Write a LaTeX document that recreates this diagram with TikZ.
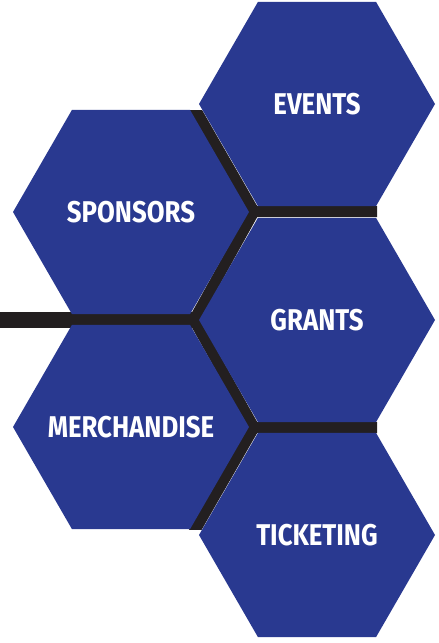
\documentclass[tikz,border=0pt]{standalone}
\usepackage{fontspec}
\newfontfamily\hexfont[FakeStretch=0.86]{Fira Sans}
\usetikzlibrary{shapes.geometric}
\definecolor{hexblue}{RGB}{41,57,144}
\definecolor{gapblack}{RGB}{35,31,32}
\begin{document}
\begin{tikzpicture}[x=1pt,y=-1pt,
  hexcell/.style={regular polygon, regular polygon sides=6, minimum size=236pt,
    inner sep=0pt, outer sep=0pt, fill=hexblue},
  hextext/.style={text=white, inner sep=0pt,
    font=\hexfont\bfseries\fontsize{30}{30}\selectfont},
  gapline/.style={draw=gapblack, line width=11pt, line join=miter},
  stubline/.style={draw=gapblack, line width=16pt}]
\useasboundingbox (0,0) rectangle (439,643);
% junctions of the dark gap network
\coordinate (jleft) at (194,320);
\coordinate (jup) at (254,211.5);
\coordinate (jdown) at (254,427.5);
\coordinate (endup) at (377,211.5);
\coordinate (enddown) at (377,427.5);
\coordinate (topend) at (190,100);
\coordinate (botend) at (190,539);
\coordinate (stubend) at (-5,320);
\begin{scope}
  \clip (-10,110) rectangle (377,529.5);
  \draw[stubline] (stubend) -- (jleft);
  \draw[gapline] (endup) -- (jup) -- (jleft) -- (jdown) -- (enddown);
  \draw[gapline] (jup) -- (topend);
  \draw[gapline] (jdown) -- (botend);
\end{scope}
% hexagons
\node[hexcell] (events) at (317,104) {};
\node[hexcell] (sponsors) at (131,212) {};
\node[hexcell] (grants) at (317,320) {};
\node[hexcell] (merch) at (131,427) {};
\node[hexcell] (ticketing) at (317,535) {};
% labels
\node[hextext] (eventslabel) at (events.center) {EVENTS};
\node[hextext] (sponsorslabel) at (sponsors.center) {SPONSORS};
\node[hextext] (grantslabel) at (grants.center) {GRANTS};
\node[hextext] (merchlabel) at (merch.center) {MERCHANDISE};
\node[hextext] (ticketinglabel) at (ticketing.center) {TICKETING};
\end{tikzpicture}
\end{document}
